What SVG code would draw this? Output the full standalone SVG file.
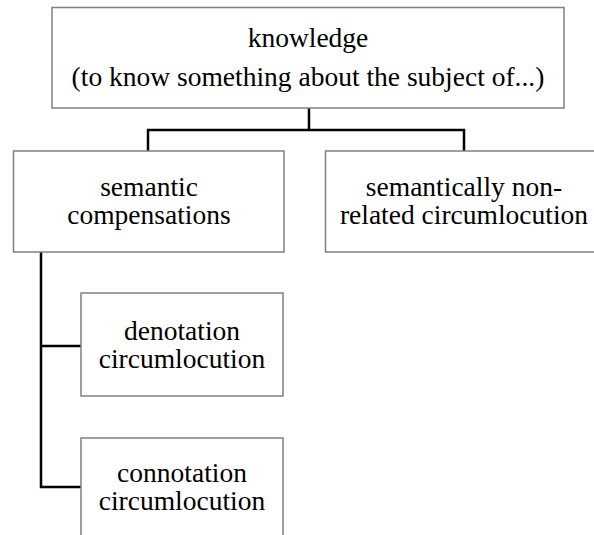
<svg xmlns="http://www.w3.org/2000/svg" width="594" height="535" viewBox="0 0 594 535">
  <style>
    .box { fill: #ffffff; stroke: #808080; stroke-width: 1.5; }
    .lbl { font-family: "Liberation Serif", "Times New Roman", serif; font-size: 27.5px; fill: #000000; text-anchor: middle; }
    .conn { fill: none; stroke: #000000; stroke-width: 2.5; }
  </style>
  <rect width="594" height="535" fill="#ffffff"/>

  <!-- connectors -->
  <g id="connectors">
    <path class="conn" d="M309 108 V130 M148 151 V130 H464 V151"/>
    <path class="conn" d="M41 252 V487 H81 M41 346 H81"/>
  </g>

  <g id="knowledge">
    <rect class="box" x="52" y="7.5" width="512" height="100.5"/>
    <text class="lbl" x="308" y="47">knowledge</text>
    <text class="lbl" x="308" y="86">(to know something about the subject of...)</text>
  </g>

  <g id="semantic-compensations">
    <rect class="box" x="13.5" y="151" width="270.5" height="101"/>
    <text class="lbl" x="149" y="195.5">semantic</text>
    <text class="lbl" x="149" y="223.5">compensations</text>
  </g>

  <g id="non-related">
    <rect class="box" x="325.5" y="151" width="278" height="101"/>
    <text class="lbl" x="464" y="195.5">semantically non-</text>
    <text class="lbl" x="464" y="223.5">related circumlocution</text>
  </g>

  <g id="denotation">
    <rect class="box" x="81" y="293" width="202" height="103"/>
    <text class="lbl" x="182" y="340">denotation</text>
    <text class="lbl" x="182" y="368">circumlocution</text>
  </g>

  <g id="connotation">
    <rect class="box" x="81" y="438" width="202" height="103"/>
    <text class="lbl" x="182" y="481.5">connotation</text>
    <text class="lbl" x="182" y="509.5">circumlocution</text>
  </g>
</svg>
